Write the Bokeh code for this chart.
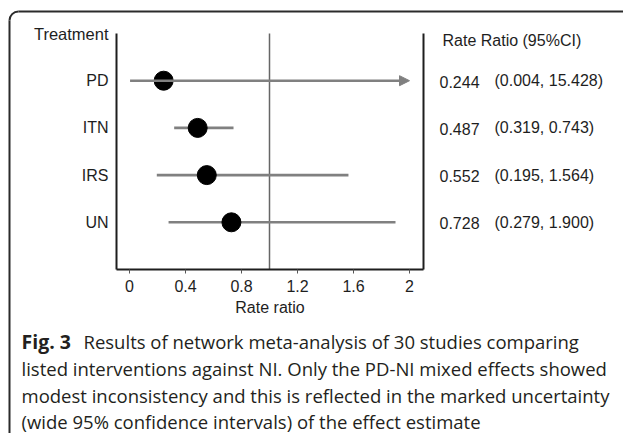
import numpy as np
from bokeh.plotting import figure
from bokeh.models import (ColumnDataSource, Range1d, FixedTicker, LinearAxis,
                          Arrow, NormalHead)
from bokeh.core.properties import value
from bokeh.embed import file_html
from bokeh.resources import INLINE

# ---------------- data ----------------
treatments = ["PD", "ITN", "IRS", "UN"]
rate_ratio = [0.244, 0.487, 0.552, 0.728]
ci_low = [0.004, 0.319, 0.195, 0.279]
ci_high = [15.428, 0.743, 1.564, 1.900]
x_ticks = [0, 0.4, 0.8, 1.2, 1.6, 2]
x_tick_labels = ["0", "0.4", "0.8", "1.2", "1.6", "2"]
reference_ratio = 1.0
x_title = "Rate ratio"
y_title = "Treatment"
right_title = "Rate Ratio (95%CI)"
caption_bold = "Fig. 3"
caption_lines = [
    "Results of network meta-analysis of 30 studies comparing",
    "listed interventions against NI. Only the PD-NI mixed effects showed",
    "modest inconsistency and this is reflected in the marked uncertainty",
    "(wide 95% confidence intervals) of the effect estimate",
]

# ---------------- layout constants (page pixels) ----------------
W, H = 623, 433
PAGE0 = 1                        # observed page offset of the canvas
PX_X0, PX_X1 = 130, 270          # page x of rate ratio 0 and 1
PX_Y0, PX_Y1 = 270, 222.8        # page y of row 0 and row 1
FL, FR, FT, FB = 117, 424, 34, 270   # forest-plot panel in page px
XMAX = 2.0
GREY = "#808080"
INK = "#1e1e1e"
FONT = "Liberation Sans"
CAP_FONT = "Open Sans"
CAP_SIZE = "18.5px"
CAP_BOLD_SIZE = "19.5px"
CAP_INK = "#231f20"

def dx(px):
    return (px - PX_X0) / (PX_X1 - PX_X0)

def dy(py):
    return (PX_Y0 - py) / (PX_Y0 - PX_Y1)

X_LO, X_HI = dx(FL), dx(FR)
Y_LO, Y_HI = dy(FB), dy(FT)

n = len(treatments)
rows = [n - i for i in range(n)]
hi_clip = np.minimum(np.array(ci_high), XMAX)
trunc = np.array(ci_high) > XMAX

src = ColumnDataSource(dict(
    y=rows, est=rate_ratio, lo=ci_low, hi=hi_clip.tolist(), name=treatments,
    est_txt=[f"{v:.3f}" for v in rate_ratio],
    ci=[f"({l:.3f}, {h:.3f})" for l, h in zip(ci_low, ci_high)],
))
src_seg = ColumnDataSource(dict(
    y=[r for r, t in zip(rows, trunc) if not t],
    lo=[l for l, t in zip(ci_low, trunc) if not t],
    hi=[h for h, t in zip(hi_clip, trunc) if not t],
))
src_arr = ColumnDataSource(dict(
    y=[r for r, t in zip(rows, trunc) if t],
    lo=[l for l, t in zip(ci_low, trunc) if t],
    hi=[h for h, t in zip(hi_clip, trunc) if t],
))

p = figure(width=W, height=H,
           x_range=Range1d(dx(PAGE0), dx(PAGE0 + W)),
           y_range=Range1d(dy(PAGE0 + H), dy(PAGE0)),
           output_backend="svg", toolbar_location=None,
           x_axis_location=None, y_axis_location=None,
           min_border_left=0, min_border_right=0, min_border_top=0, min_border_bottom=0)
p.outline_line_color = None
p.xgrid.visible = False
p.ygrid.visible = False
p.background_fill_color = "white"
p.border_fill_color = "white"

def style_axis(ax):
    ax.axis_line_width = 2
    ax.axis_line_color = INK
    ax.minor_tick_line_color = None
    ax.major_label_text_font = FONT
    ax.major_label_text_font_size = "16px"
    ax.major_label_text_color = INK

# x axis (bottom of panel)
xaxis = LinearAxis(ticker=FixedTicker(ticks=x_ticks),
                   major_label_overrides={t: l for t, l in zip(x_ticks, x_tick_labels)},
                   axis_label=x_title, fixed_location=Y_LO, bounds=(X_LO, X_HI))
style_axis(xaxis)
xaxis.major_tick_out = 4
xaxis.major_tick_in = 0
xaxis.major_tick_line_color = "#555555"
xaxis.major_label_standoff = 6
xaxis.axis_label_text_font = FONT
xaxis.axis_label_text_font_size = "16px"
xaxis.axis_label_text_font_style = "normal"
xaxis.axis_label_text_color = INK
xaxis.axis_label_standoff = 4
p.add_layout(xaxis, "below")

# left axis with treatment names
yaxis = LinearAxis(ticker=FixedTicker(ticks=rows),
                   major_label_overrides={r: t for r, t in zip(rows, treatments)},
                   fixed_location=X_LO, bounds=(Y_LO, Y_HI))
style_axis(yaxis)
yaxis.major_tick_out = 0
yaxis.major_tick_in = 0
yaxis.major_label_standoff = 8
p.add_layout(yaxis, "left")

# right axis line
raxis = LinearAxis(ticker=FixedTicker(ticks=[]), fixed_location=X_HI, bounds=(Y_LO, Y_HI))
style_axis(raxis)
raxis.major_tick_out = 0
raxis.major_tick_in = 0
p.add_layout(raxis, "right")

# reference line at rate ratio 1
p.segment(x0=[reference_ratio], y0=[Y_LO], x1=[reference_ratio], y1=[Y_HI],
          line_color="#666666", line_width=1.5)

# CI lines
p.segment(x0="lo", y0="y", x1="hi", y1="y", source=src_seg,
          line_color=GREY, line_width=2.6)
p.add_layout(Arrow(end=NormalHead(size=10, fill_color=GREY, line_color=GREY, line_width=1),
                   x_start="lo", y_start="y", x_end="hi", y_end="y", source=src_arr,
                   line_color=GREY, line_width=2.6))

# point estimates
p.scatter(x="est", y="y", source=src, size=19, color="black")

# column texts
p.text(x=[dx(109)], y=[dy(34)], text=[y_title], text_align="right",
       text_baseline="middle", text_font=value(FONT), text_font_size="16.5px",
       text_color=INK)
p.text(x=[dx(443)], y=[dy(41)], text=[right_title], text_align="left",
       text_baseline="middle", text_font=value(FONT), text_font_size="16px",
       text_color=INK)
p.text(x=dx(440), y="y", text="est_txt", source=src, text_align="left",
       text_baseline="middle", text_font=value(FONT), text_font_size="16px",
       text_color=INK, y_offset=1)
p.text(x=dx(495), y="y", text="ci", source=src, text_align="left",
       text_baseline="middle", text_font=value(FONT), text_font_size="16px",
       text_color=INK)

# caption
base = [342, 369, 396, 422]
p.text(x=[dx(22)], y=[dy(base[0])], text=[caption_bold], text_align="left",
       text_baseline="alphabetic", text_font=value(CAP_FONT), text_font_style="bold",
       text_font_size=CAP_BOLD_SIZE, text_color=CAP_INK)
cap_x = [dx(84)] + [dx(22)] * (len(caption_lines) - 1)
p.text(x=cap_x, y=[dy(b) for b in base], text=caption_lines, text_align="left",
       text_baseline="alphabetic", text_font=value(CAP_FONT),
       text_font_size=CAP_SIZE, text_color=CAP_INK)

# rounded border of the figure panel
R = 9
BX, BY = 10, 12
p.segment(x0=[dx(BX + R)], y0=[dy(BY)], x1=[dx(700)], y1=[dy(BY)],
          line_color="#2b2b2b", line_width=2)
p.segment(x0=[dx(BX)], y0=[dy(BY + R)], x1=[dx(BX)], y1=[dy(500)],
          line_color="#2b2b2b", line_width=2)
p.arc(x=[dx(BX + R)], y=[dy(BY + R)], radius=R, radius_units="screen",
      start_angle=np.pi / 2, end_angle=np.pi, line_color="#2b2b2b", line_width=2)

open("out.html", "w").write(file_html(p, INLINE))
